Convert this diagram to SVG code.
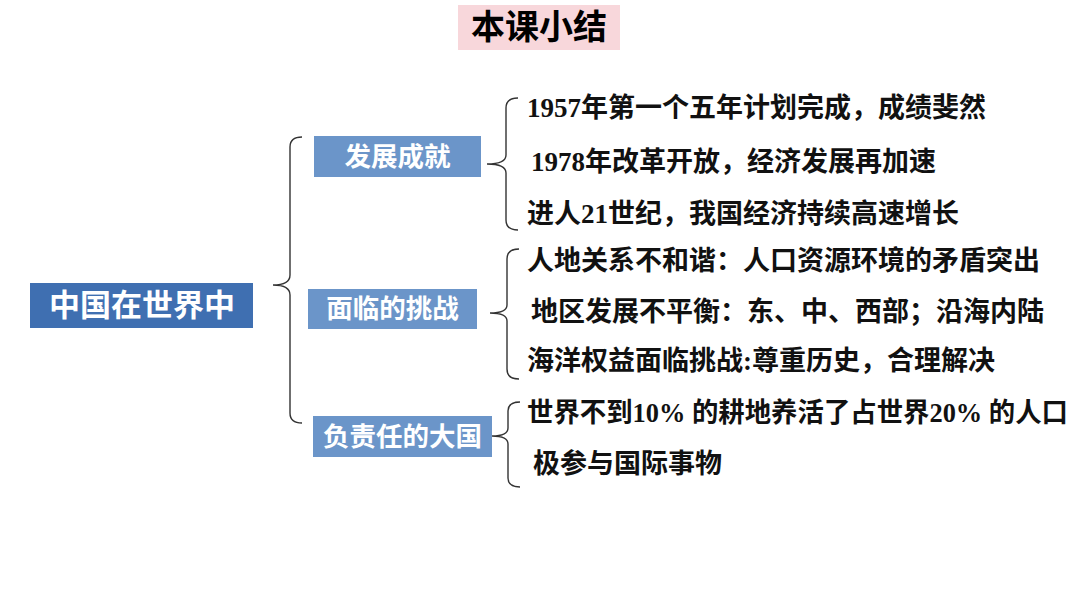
<svg xmlns="http://www.w3.org/2000/svg" width="1080" height="608" viewBox="0 0 1080 608">
<style>
.br{fill:none;stroke:#333;stroke-width:1.4}
.t{font-family:"Liberation Serif","Noto Sans CJK SC",serif;font-weight:bold;font-size:27px;fill:#111}
.sub{fill:#6b95c9}
.st{font-family:"Noto Sans CJK SC",sans-serif;font-weight:bold;font-size:26.5px;fill:#fff;text-anchor:middle}
</style>
<rect width="1080" height="608" fill="#fff"/>
<g id="title">
<rect x="458" y="5" width="162" height="45" fill="#f8d7db"/>
<text x="539" y="39" font-family="Noto Sans CJK SC,sans-serif" font-weight="bold" font-size="34" text-anchor="middle" fill="#000">本课小结</text>
</g>
<g id="root">
<rect x="30" y="283" width="223" height="45" fill="#3f6fb1"/>
<text x="142" y="316" font-family="Noto Sans CJK SC,sans-serif" font-weight="bold" font-size="31" text-anchor="middle" fill="#fff">中国在世界中</text>
</g>
<g id="connectors">
<path class="br" d="M302,137 Q290,137 290,147 V275 Q290,285 273,285 Q290,285 290,295 V413 Q290,423 302,423"/>
<path class="br" d="M518,98 Q506,98 506,108 V155 Q506,164 487,164 Q506,164 506,173 V220 Q506,230 518,230"/>
<path class="br" d="M519,249 Q507,249 507,259 V305 Q507,313 490,313 Q507,313 507,321 V369 Q507,379 519,379"/>
<path class="br" d="M520,402 Q508,402 508,411 V428 Q508,436 492,436 Q508,436 508,444 V478 Q508,487 520,487"/>
</g>
<g id="n1">
<rect class="sub" x="314" y="136" width="167" height="41"/>
<text class="st" x="397.5" y="166">发展成就</text>
</g>
<g id="n2">
<rect class="sub" x="308" y="289" width="169" height="40"/>
<text class="st" x="392.5" y="318">面临的挑战</text>
</g>
<g id="n3">
<rect class="sub" x="313" y="416" width="179" height="41"/>
<text class="st" x="402.5" y="446">负责任的大国</text>
</g>
<g id="items">
<text class="t" x="527" y="117">1957年第一个五年计划完成，成绩斐然</text>
<text class="t" x="531" y="171">1978年改革开放，经济发展再加速</text>
<text class="t" x="527" y="223">进人21世纪，我国经济持续高速增长</text>
<text class="t" x="527" y="270">人地关系不和谐：人口资源环境的矛盾突出</text>
<text class="t" x="531" y="321">地区发展不平衡：东、中、西部；沿海内陆</text>
<text class="t" x="527" y="370">海洋权益面临挑战:尊重历史，合理解决</text>
<text class="t" x="527" y="422" textLength="541" lengthAdjust="spacingAndGlyphs">世界不到10% 的耕地养活了占世界20% 的人口</text>
<text class="t" x="533" y="473">极参与国际事物</text>
</g>
</svg>
